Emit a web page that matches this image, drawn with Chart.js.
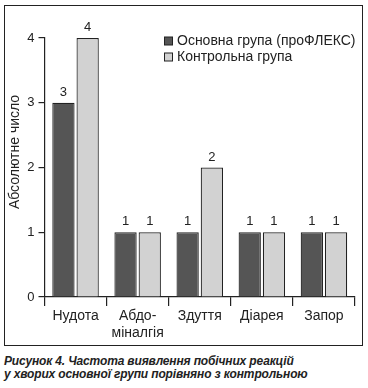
<!DOCTYPE html>
<html>
<head>
<meta charset="UTF-8">
<title>Рисунок 4</title>
<script src="https://cdn.jsdelivr.net/npm/chart.js@4/dist/chart.umd.min.js"></script>
<style>
  body{margin:0;background:#fff;font-family:"Liberation Sans",Arial,sans-serif;}
  #box{position:absolute;left:4px;top:5px;width:357px;height:339px;border:1.5px solid #222;}
  #box canvas{display:block;}
  #caption{position:absolute;left:4px;top:355px;font:italic bold 12px/13px "Liberation Sans",Arial,sans-serif;color:#222;letter-spacing:-0.15px;}
</style>
</head>
<body>
<div id="box"><canvas id="chart" width="357" height="339"></canvas></div>
<div id="caption">Рисунок 4. Частота виявлення побічних реакцій<br>у хворих основної групи порівняно з контрольною</div>
<script>
const categories=["Нудота",["Абдо-","міналгія"],"Здуття","Діарея","Запор"];
const mainGroup=[3,1,1,1,1];
const controlGroup=[4,1,2,1,1];
const seriesNames=["Основна група (проФЛЕКС)","Контрольна група"];
const yTicks=[0,1,2,3,4];
const yTitle="Абсолютне число";

const font="'Liberation Sans', Arial, sans-serif";

const extras={
  id:"extras",
  afterDraw(chart){
    const ctx=chart.ctx;
    ctx.save();
    // value labels above bars
    ctx.fillStyle="#222";
    ctx.font="13px "+font;
    ctx.textAlign="center";
    ctx.textBaseline="bottom";
    chart.data.datasets.forEach((ds,i)=>{
      chart.getDatasetMeta(i).data.forEach((bar,j)=>{
        ctx.fillText(ds.data[j],bar.x,bar.y-4);
      });
    });
    // y axis title
    ctx.save();
    ctx.font="14px "+font;
    ctx.translate(10,146);
    ctx.rotate(-Math.PI/2);
    ctx.textBaseline="middle";
    ctx.fillText(yTitle,0,0);
    ctx.restore();
    // legend
    ctx.font="14px "+font;
    ctx.textAlign="left";
    ctx.textBaseline="middle";
    chart.data.datasets.forEach((ds,i)=>{
      const y=35+i*16;
      ctx.fillStyle=ds.backgroundColor;
      ctx.strokeStyle="#222";
      ctx.lineWidth=1;
      ctx.fillRect(159.5,y-4,8,8);
      ctx.strokeRect(159.5,y-4,8,8);
      ctx.fillStyle="#222";
      ctx.fillText(ds.label,172,y+0.5);
    });
    ctx.restore();
  }
};

new Chart(document.getElementById("chart"),{
  type:"bar",
  data:{
    labels:categories,
    datasets:[
      {label:seriesNames[0],data:mainGroup,backgroundColor:"#555555",borderColor:"#222",borderWidth:1.2,
       categoryPercentage:0.78,barPercentage:0.92},
      {label:seriesNames[1],data:controlGroup,backgroundColor:"#d2d2d2",borderColor:"#222",borderWidth:1.2,
       categoryPercentage:0.78,barPercentage:0.92}
    ]
  },
  options:{
    responsive:false,
    animation:false,
    layout:{padding:{left:0,top:32,right:7,bottom:0}},
    plugins:{legend:{display:false},tooltip:{enabled:false}},
    scales:{
      x:{
        grid:{drawOnChartArea:false,offset:true,color:"#222",tickLength:9,lineWidth:1.2},
        border:{color:"#222",width:1.2},
        ticks:{color:"#222",font:{family:font,size:14},padding:2,maxRotation:0,autoSkip:false},
        afterFit(s){s.height=48;}
      },
      y:{
        min:0,max:4,
        grid:{drawOnChartArea:false,color:"#222",tickLength:6,lineWidth:1.2},
        border:{color:"#222",width:1.2},
        afterBuildTicks(s){s.ticks=yTicks.map(v=>({value:v}));},
        ticks:{color:"#222",font:{family:font,size:13},padding:4},
        afterFit(s){s.width=39.5;}
      }
    }
  },
  plugins:[extras]
});
</script>
</body>
</html>
